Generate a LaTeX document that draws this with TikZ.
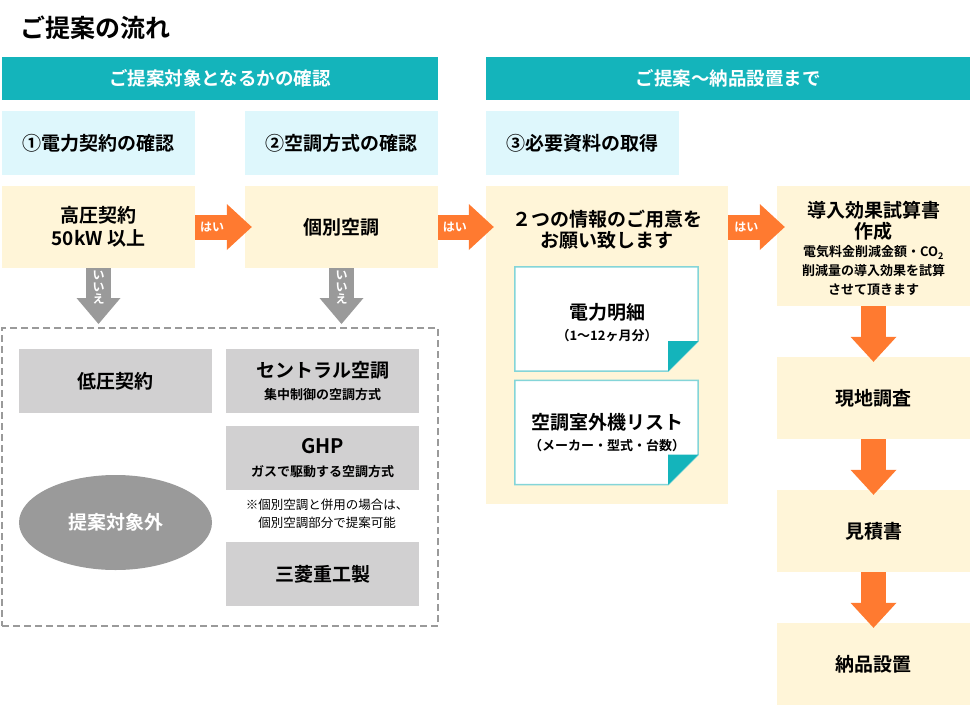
\documentclass[tikz,border=0pt]{standalone}
\usepackage{fontspec}
\setmainfont{Noto Sans CJK JP}[BoldFont={Noto Sans CJK JP Bold}]
\usetikzlibrary{arrows.meta,shapes.geometric}

\definecolor{headteal}{HTML}{14B4BB}
\definecolor{skyfill}{HTML}{DEF7FC}
\definecolor{creamfill}{HTML}{FFF5D8}
\definecolor{okorange}{HTML}{FF7A30}
\definecolor{nogray}{HTML}{9A9A9A}
\definecolor{boxgray}{HTML}{D1D0D1}
\definecolor{paperline}{HTML}{84D5D8}

\begin{document}
\begin{tikzpicture}[
    x=1pt, y=-1pt,
    font=\bfseries,
    hdbox/.style={fill=headteal, text=white, minimum height=43pt, inner sep=0pt,
        font=\bfseries\fontsize{18.5}{22}\selectfont},
    stepbox/.style={fill=skyfill, minimum width=193pt, minimum height=64pt, inner sep=0pt,
        font=\bfseries\fontsize{19}{22}\selectfont},
    cream/.style={fill=creamfill, minimum width=193pt, inner sep=0pt, align=center,
        font=\bfseries\fontsize{19}{23}\selectfont},
    graybox/.style={fill=boxgray, minimum width=193pt, minimum height=64pt, inner sep=0pt,
        align=center, font=\bfseries\fontsize{19}{22}\selectfont},
    bigtext/.style={inner sep=0pt, align=center, font=\bfseries\fontsize{19}{21}\selectfont},
    subtext/.style={inner sep=0pt, align=center, font=\bfseries\fontsize{13}{19}\selectfont},
    tag/.style={text=white, inner sep=0pt, align=center, font=\bfseries\fontsize{12}{10.5}\selectfont},
    vtag/.style={text=white, inner sep=0pt, align=center, font=\bfseries\fontsize{12}{12}\selectfont},
    haiarrow/.style={draw=okorange, line width=25pt,
        -{Triangle[width=46pt, length=25pt, line width=0pt]}},
    iiearrow/.style={draw=nogray, line width=25pt,
        -{Triangle[width=44pt, length=26pt, line width=0pt]}}
]
    \useasboundingbox (0,0) rectangle (972,710);

    % Title and headers
    \node[anchor=west, inner sep=0pt, font=\bfseries\fontsize{25}{28}\selectfont] (title) at (20,28) {ご提案の流れ};
    \node[hdbox, minimum width=436pt] (check) at (220,78.5) {ご提案対象となるかの確認};
    \node[hdbox, minimum width=484pt] (deliver) at (728,78.5) {ご提案〜納品設置まで};

    % Steps
    \node[stepbox] (step1) at (98.5,143) {①電力契約の確認};
    \node[stepbox] (step2) at (341.5,143) {②空調方式の確認};
    \node[stepbox] (step3) at (582.5,143) {③必要資料の取得};

    % Yellow boxes
    \node[cream, minimum height=82pt] (highv) at (98.5,227) {高圧契約\\50kW 以上};
    \node[cream, minimum height=82pt] (kobetsu) at (341.5,227) {個別空調};
    \node[cream, minimum width=242pt, minimum height=318pt] (docs) at (607,345) {};
    \node[bigtext, text depth=0pt] (docstxt) at (607,228.5) {２つの情報のご用意を\\お願い致します};
    \node[cream, minimum height=120pt] (trial) at (873.5,246) {};
    \node[bigtext] (trialtxt) at (873.5,220.5) {導入効果試算書\\作成};
    \node[subtext] (trialsub) at (873.5,271) {電気料金削減金額・CO\textsubscript{2}\\削減量の導入効果を試算\\させて頂きます};
    \node[cream, minimum height=82pt] (survey) at (873.5,398) {現地調査};
    \node[cream, minimum height=82pt] (quote) at (873.5,531) {見積書};
    \node[cream, minimum height=82pt] (install) at (873.5,664) {納品設置};

    % Papers
    \node[minimum width=183pt, minimum height=104pt, inner sep=0pt] (bill) at (606.5,319) {};
    \draw[paperline, line width=1.5pt, fill=white] (bill.north west) -- (bill.north east)
        -- ([yshift=30pt]bill.south east) -- ([xshift=-30pt]bill.south east) -- (bill.south west) -- cycle;
    \fill[headteal] ([yshift=30pt]bill.south east) -- ([xshift=-30pt, yshift=30pt]bill.south east)
        -- ([xshift=-30pt]bill.south east) -- cycle;
    \node[bigtext] (billtxt) at (607,323) {電力明細\\{\fontsize{13}{15}\selectfont （1〜12ヶ月分）}};

    \node[minimum width=183pt, minimum height=104pt, inner sep=0pt] (units) at (606.5,432.5) {};
    \draw[paperline, line width=1.5pt, fill=white] (units.north west) -- (units.north east)
        -- ([yshift=30pt]units.south east) -- ([xshift=-30pt]units.south east) -- (units.south west) -- cycle;
    \fill[headteal] ([yshift=30pt]units.south east) -- ([xshift=-30pt, yshift=30pt]units.south east)
        -- ([xshift=-30pt]units.south east) -- cycle;
    \node[bigtext] (unitstxt) at (607,432.5) {空調室外機リスト\\{\fontsize{13}{15}\selectfont （メーカー・型式・台数）}};

    % Out of scope
    \node[draw=nogray, line width=2pt, dash pattern=on 7pt off 4pt, minimum width=436pt,
        minimum height=298pt, inner sep=0pt] (outside) at (220,477) {};
    \node[graybox] (lowv) at (115.5,381) {低圧契約};
    \node[graybox] (central) at (322.5,381) {セントラル空調\\{\fontsize{13}{15}\selectfont 集中制御の空調方式}};
    \node[graybox, font=\bfseries\fontsize{19}{23}\selectfont] (ghp) at (322.5,458) {{\fontsize{20}{22}\selectfont GHP}\\{\fontsize{13}{15}\selectfont ガスで駆動する空調方式}};
    \node[inner sep=0pt, align=center, font=\mdseries\fontsize{12.5}{18}\selectfont] (note) at (327,514)
        {※個別空調と併用の場合は、\\個別空調部分で提案可能};
    \node[graybox] (mhi) at (322.5,574) {三菱重工製};
    \node[ellipse, fill=nogray, text=white, minimum width=193pt, minimum height=95pt, inner sep=0pt,
        font=\bfseries\fontsize{19}{22}\selectfont] (outscope) at (115.5,522.5) {提案対象外};

    % Arrows
    \draw[haiarrow] (highv.east) -- ([xshift=7pt]kobetsu.west) node[tag, pos=0.3] {はい};
    \draw[haiarrow] (kobetsu.east) -- ([xshift=8pt]docs.west |- kobetsu.east) node[tag, pos=0.3] {はい};
    \draw[haiarrow] (docs.east |- highv.east) -- ([xshift=8pt]trial.west |- highv.east) node[tag, pos=0.32] {はい};
    \draw[iiearrow] (highv.south) -- ([yshift=3pt]highv.south |- outside.north) node[vtag, pos=0.34] {い\\い\\え};
    \draw[iiearrow] (kobetsu.south) -- ([yshift=3pt]kobetsu.south |- outside.north) node[vtag, pos=0.34] {い\\い\\え};
    \draw[haiarrow] (trial.south) -- ([yshift=-5pt]survey.north);
    \draw[haiarrow] (survey.south) -- ([yshift=-5pt]quote.north);
    \draw[haiarrow] (quote.south) -- ([yshift=-5pt]install.north);

\end{tikzpicture}
\end{document}
